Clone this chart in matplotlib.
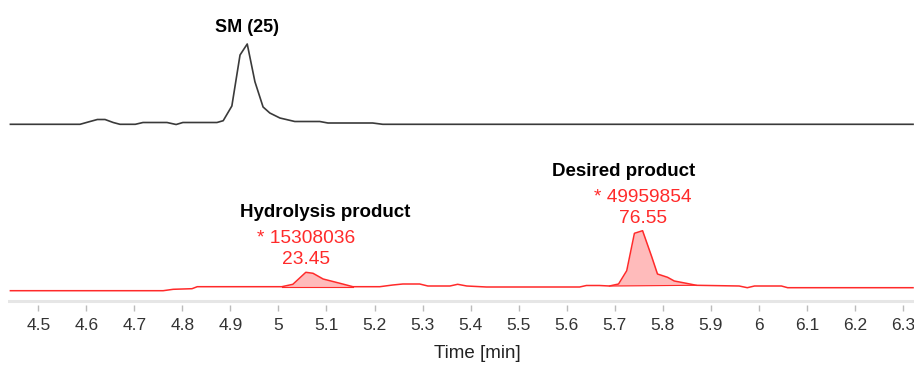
import numpy as np
import matplotlib

matplotlib.use("Agg")
import matplotlib.pyplot as plt

plt.rcParams["font.family"] = ["Liberation Sans", "DejaVu Sans"]

# SM trace (black) - time [min] and intensity (arbitrary units above its baseline)
sm_time = [4.442, 4.587, 4.604, 4.623, 4.639, 4.656, 4.670, 4.702, 4.718, 4.768,
           4.787, 4.801, 4.872, 4.885, 4.903, 4.920, 4.935, 4.951, 4.968, 4.982,
           5.003, 5.034, 5.086, 5.103, 5.196, 5.217, 6.321]
sm_int = [0, 0, 2.3, 4.8, 4.8, 1.8, 0, 0, 1.8, 1.8,
          -0.2, 1.8, 1.8, 3.6, 18.3, 69.3, 80.3, 42.6, 17.3, 11.3,
          6.3, 2.8, 2.8, 1.3, 1.3, 0, 0]

# reaction trace (red)
rx_time = [4.442, 4.760, 4.781, 4.820, 4.831, 5.007, 5.030, 5.057, 5.072, 5.093,
           5.128, 5.155, 5.211, 5.238, 5.259, 5.294, 5.311, 5.357, 5.373, 5.392,
           5.433, 5.627, 5.641, 5.668, 5.689, 5.708, 5.725, 5.741, 5.758, 5.777,
           5.789, 5.810, 5.824, 5.849, 5.870, 5.959, 5.976, 5.991, 6.047, 6.060,
           6.321]
rx_int = [0, 0, 1.4, 2.0, 4.0, 4.0, 6.4, 18.4, 17.4, 11.7,
          7.4, 4.0, 4.0, 5.7, 6.7, 6.7, 4.7, 4.7, 6.4, 4.7,
          3.7, 3.7, 5.2, 5.2, 4.7, 6.7, 20.0, 57.4, 60.0, 34.0,
          16.7, 13.4, 9.7, 7.4, 5.4, 4.7, 3.0, 4.7, 4.7, 3.0,
          3.0]

# integrated peaks: (start, end, area, percent)
peaks = [(5.007, 5.155, "15308036", "23.45"),
         (5.689, 5.870, "49959854", "76.55")]
peak_names = ["Hydrolysis product", "Desired product"]

SM_OFF, RX_OFF = 172.7, 6.3
ticks = np.round(np.arange(4.5, 6.31, 0.1), 1)
tick_labels = [f"{t:g}" for t in ticks]

fig = plt.figure(figsize=(9.14, 3.65), dpi=100)
ax = fig.add_axes([8 / 914, 56 / 365, 906 / 914, 309 / 365])

sm_t, sm_y = np.array(sm_time), np.array(sm_int) + SM_OFF
rx_t, rx_y = np.array(rx_time), np.array(rx_int) + RX_OFF
ax.plot(sm_t, sm_y, color="#3a3a3a", lw=1.2)
ax.plot(rx_t, rx_y, color="#ff2a2a", lw=1.1)

for (t0, t1, area, pct), name in zip(peaks, peak_names):
    m = (rx_t >= t0) & (rx_t <= t1)
    tt, yy = rx_t[m], rx_y[m]
    base = np.interp(tt, [tt[0], tt[-1]], [yy[0], yy[-1]])
    ax.fill_between(tt, base, yy, color="#ffb0b0", alpha=0.85, lw=0)
    ax.plot([tt[0], tt[-1]], [yy[0], yy[-1]], color="#ff2a2a", lw=0.8)
    ipk = np.argmax(yy)
    tp, yp = tt[ipk], yy[ipk]
    ax.text(tp, yp + 4, pct, color="#ff2a2a", fontsize=13.8, ha="center", va="bottom")
    ax.text(tp, yp + 25, "* " + area, color="#ff2a2a", fontsize=13.8, ha="center", va="bottom")
    ax.text(tp + (0.04 if name.startswith("H") else -0.04), yp + 51, name,
            fontsize=13.5, fontweight="bold", ha="center", va="bottom")

ipk = int(np.argmax(sm_y))
ax.text(sm_t[ipk], sm_y[ipk] + 8, "SM (25)", fontsize=13, fontweight="bold",
        ha="center", va="bottom")

ax.set_xlim(4.437, 6.323)
ax.set_ylim(-12, 297)
# light axis band, with the ticks hanging just below it
ax.axhline(-4, color="#e6e6e6", lw=2.2)
for s in ("top", "right", "left"):
    ax.spines[s].set_visible(False)
ax.spines["bottom"].set_position(("data", -8))
ax.spines["bottom"].set_visible(False)
ax.set_yticks([])
ax.set_xticks(ticks)
ax.set_xticklabels(tick_labels)
ax.tick_params(axis="x", colors="#bbbbbb", labelcolor="#333333", labelsize=12.5,
               length=4, width=1, pad=5)
ax.set_xlabel("Time [min]", fontsize=13.5, color="#222222", labelpad=9, x=0.518)

fig.savefig("out.png", dpi=100)
